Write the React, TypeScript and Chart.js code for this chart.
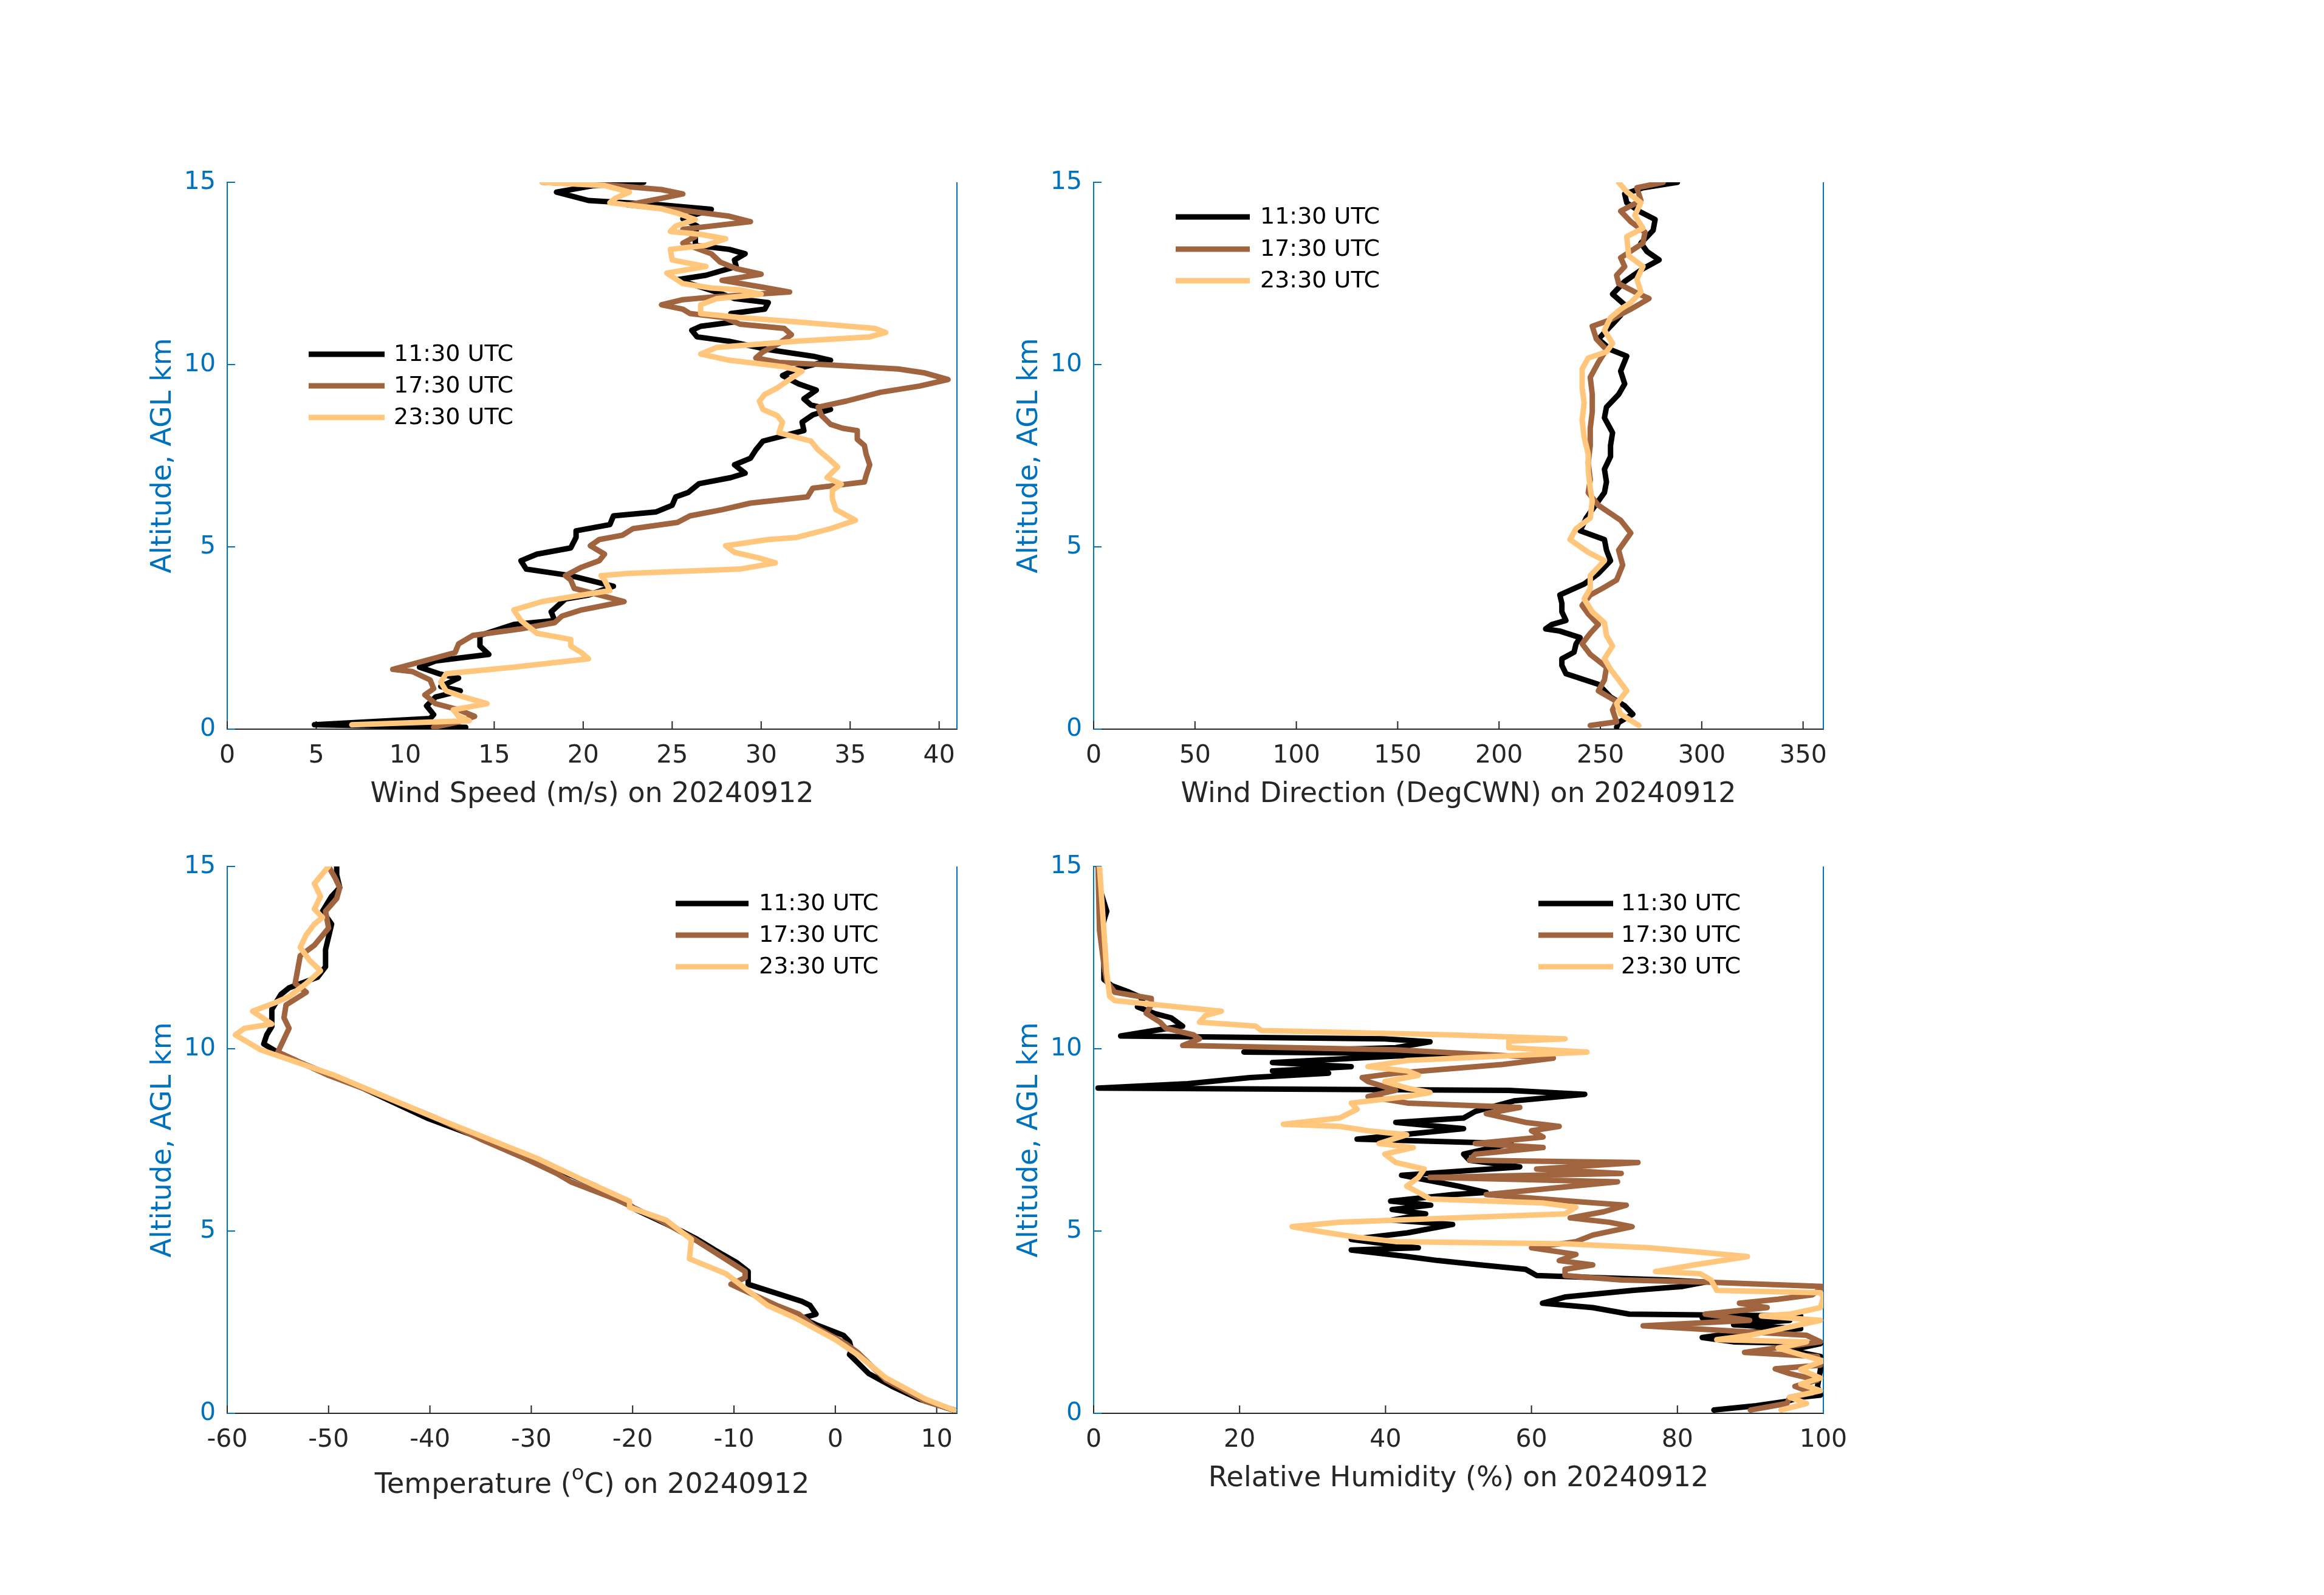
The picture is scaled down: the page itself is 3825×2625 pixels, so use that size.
import React, { useEffect, useRef } from "react";
import { Chart, registerables } from "chart.js";

Chart.register(...registerables);

type Pt = [number, number]; // [value, altitude km]

// ---------------- DATA ----------------
const SERIES_NAMES = ["11:30 UTC", "17:30 UTC", "23:30 UTC"];

const windSpeed1130: Pt[] = [[13.4,0.05],[4.9,0.12],[11.4,0.29],[11.6,0.4],[11.2,0.64],[11.7,0.88],[13.1,1.05],[12.0,1.17],[13.0,1.4],[11.9,1.52],[10.8,1.7],[11.7,1.87],[14.7,2.05],[14.2,2.28],[14.2,2.57],[16.1,2.87],[18.4,2.98],[18.2,3.22],[19.0,3.57],[20.3,3.68],[21.7,3.92],[19.3,4.21],[16.8,4.39],[16.5,4.62],[17.4,4.8],[19.3,4.97],[19.6,5.26],[19.6,5.44],[21.5,5.61],[21.7,5.85],[24.1,5.96],[25.0,6.14],[25.2,6.37],[25.9,6.49],[26.5,6.73],[28.3,6.9],[29.1,7.02],[28.5,7.25],[29.4,7.43],[29.7,7.66],[30.1,7.9],[32.4,8.19],[32.3,8.42],[32.9,8.62],[33.9,8.77],[32.8,8.89],[32.4,9.06],[33.1,9.3],[32.1,9.47],[31.2,9.7],[32.0,9.88],[33.9,10.12],[32.9,10.23],[30.4,10.41],[28.2,10.64],[26.4,10.76],[26.1,10.94],[26.6,11.05],[28.5,11.17],[28.3,11.4],[30.2,11.52],[30.4,11.7],[28.5,11.81],[27.5,11.99],[25.3,12.33],[26.9,12.45],[28.6,12.69],[28.5,12.87],[29.1,13.04],[28.2,13.16],[26.3,13.27],[26.3,13.57],[26.4,13.8],[25.6,14.0],[27.2,14.26],[24.4,14.38],[20.3,14.5],[18.5,14.73],[20.6,14.91],[23.4,15.0]];
const windSpeed1730: Pt[] = [[11.6,0.05],[13.0,0.2],[13.9,0.35],[13.0,0.53],[11.7,0.7],[11.1,0.94],[11.6,1.11],[11.4,1.35],[10.4,1.58],[9.3,1.64],[10.9,1.85],[12.8,2.1],[13.0,2.34],[13.8,2.57],[16.5,2.75],[18.4,2.92],[18.8,3.1],[19.9,3.27],[22.3,3.5],[20.9,3.68],[19.5,3.86],[19.3,4.09],[19.0,4.21],[19.9,4.44],[20.9,4.62],[21.2,4.8],[20.4,5.03],[20.9,5.2],[22.2,5.32],[22.8,5.5],[25.3,5.67],[26.0,5.85],[27.8,6.02],[29.4,6.2],[32.6,6.37],[32.9,6.61],[35.8,6.78],[35.9,6.96],[36.1,7.25],[35.9,7.54],[35.8,7.78],[35.4,7.95],[35.4,8.19],[34.6,8.25],[33.9,8.36],[33.4,8.6],[33.2,8.83],[34.8,9.0],[36.7,9.24],[38.9,9.41],[40.5,9.59],[39.2,9.77],[37.7,9.88],[33.5,10.0],[31.0,10.06],[29.7,10.18],[30.1,10.35],[31.0,10.58],[31.7,10.82],[31.3,10.99],[28.8,11.11],[27.9,11.29],[26.0,11.4],[25.6,11.52],[24.4,11.64],[25.6,11.78],[27.2,11.85],[31.6,11.99],[30.0,12.13],[27.8,12.31],[30.0,12.48],[28.6,12.63],[27.7,12.81],[27.2,13.04],[25.6,13.33],[26.3,13.51],[25.6,13.71],[29.4,13.92],[28.2,14.07],[25.6,14.23],[22.5,14.38],[24.4,14.56],[25.6,14.68],[24.4,14.8],[21.8,14.91],[17.7,15.0]];
const windSpeed2330: Pt[] = [[7.0,0.12],[13.6,0.23],[13.0,0.35],[12.7,0.53],[14.6,0.7],[13.3,0.88],[12.3,1.05],[12.0,1.29],[12.3,1.52],[16.1,1.7],[20.3,1.93],[19.9,2.1],[19.3,2.28],[19.3,2.46],[17.4,2.63],[16.5,2.98],[16.1,3.27],[17.7,3.5],[19.3,3.63],[21.5,3.8],[21.2,4.09],[21.0,4.21],[22.5,4.27],[28.8,4.39],[30.8,4.56],[30.0,4.68],[28.5,4.85],[28.0,5.03],[30.4,5.2],[32.0,5.26],[33.9,5.5],[35.3,5.73],[34.2,6.02],[34.0,6.32],[34.0,6.55],[34.5,6.72],[33.7,6.9],[34.3,7.19],[33.9,7.37],[33.2,7.66],[32.8,7.9],[31.0,8.13],[31.2,8.42],[30.9,8.6],[30.1,8.77],[29.9,9.0],[30.2,9.18],[30.9,9.36],[31.6,9.59],[32.3,9.82],[31.3,9.94],[28.2,10.12],[26.6,10.29],[27.5,10.47],[32.0,10.64],[36.1,10.76],[37.0,10.88],[36.4,10.99],[32.0,11.17],[28.8,11.29],[26.6,11.4],[26.6,11.64],[27.5,11.81],[30.0,11.93],[28.8,12.05],[27.2,12.1],[25.6,12.22],[24.7,12.51],[26.9,12.69],[25.0,12.87],[24.9,13.16],[26.9,13.27],[28.0,13.45],[26.6,13.57],[24.9,13.65],[25.2,13.8],[26.3,13.98],[25.3,14.15],[24.4,14.27],[21.5,14.44],[21.8,14.56],[22.6,14.73],[21.2,14.91],[17.7,15.0]];

const windDir1130: Pt[] = [[258,0.05],[259,0.18],[266,0.41],[262,0.64],[255,0.88],[249,1.23],[233,1.52],[231,1.75],[231,1.93],[237,2.11],[238,2.34],[240,2.51],[230,2.69],[223,2.75],[226,2.87],[233,2.98],[231,3.22],[231,3.45],[230,3.68],[242,3.98],[249,4.27],[255,4.62],[253,4.91],[252,5.2],[240,5.44],[243,5.79],[252,6.49],[253,6.78],[252,7.13],[255,7.48],[255,7.78],[256,8.13],[252,8.54],[253,8.83],[259,9.18],[262,9.47],[260,9.82],[263,10.23],[255,10.41],[249,10.7],[256,11.11],[260,11.35],[262,11.64],[256,11.93],[262,12.28],[271,12.63],[279,12.87],[273,13.1],[270,13.33],[276,13.68],[277,13.98],[269,14.21],[263,14.44],[262,14.68],[271,14.85],[288,15]];
const windDir1730: Pt[] = [[245,0.1],[258,0.2],[256,0.53],[258,0.76],[249,1.05],[252,1.35],[253,1.7],[245,2.05],[241,2.34],[245,2.63],[249,2.87],[244,3.16],[241,3.39],[245,3.68],[251,3.86],[258,4.09],[261,4.5],[259,4.91],[265,5.38],[260,5.73],[249,6.14],[244,6.49],[245,6.84],[244,7.31],[245,7.78],[245,8.25],[246,8.71],[246,9.18],[245,9.65],[249,10.06],[253,10.41],[248,10.7],[246,11.05],[255,11.23],[265,11.52],[274,11.81],[267,11.99],[259,12.22],[258,12.45],[262,12.69],[260,12.93],[271,13.33],[272,13.63],[265,13.92],[260,14.21],[270,14.5],[268,14.85],[281,15]];
const windDir2330: Pt[] = [[269,0.1],[260,0.41],[258,0.7],[263,1.05],[259,1.35],[255,1.64],[252,1.93],[256,2.28],[253,2.57],[252,2.92],[246,3.22],[242,3.57],[245,3.86],[245,4.21],[252,4.62],[244,4.85],[235,5.2],[238,5.5],[245,5.79],[246,6.26],[245,6.61],[244,7.07],[244,7.54],[242,8.01],[241,8.48],[242,8.95],[241,9.36],[241,9.88],[244,10.18],[253,10.35],[256,10.58],[252,10.94],[255,11.29],[260,11.52],[265,11.7],[270,11.99],[268,12.34],[271,12.69],[264,12.98],[263,13.51],[271,13.74],[267,14.09],[270,14.44],[263,14.74],[259,15]];

const temp1130: Pt[] = [[11.7,0.09],[8.3,0.39],[5.6,0.74],[3.3,1.09],[1.4,1.61],[1.6,1.75],[1.4,1.96],[0.8,2.14],[-1.9,2.43],[-3.3,2.61],[-1.9,2.72],[-2.5,2.96],[-3.3,3.07],[-8.6,3.54],[-8.6,3.89],[-9.7,4.13],[-11.9,4.48],[-13.6,4.77],[-15.2,5.0],[-19.7,5.59],[-20.8,5.82],[-23.6,6.23],[-27.5,6.7],[-30.8,7.11],[-34.7,7.52],[-40.3,8.1],[-46.6,8.92],[-54.4,9.8],[-56.4,10.13],[-56.1,10.38],[-55.6,10.61],[-55.6,11.08],[-54.7,11.49],[-53.9,11.67],[-51.1,11.96],[-50.3,12.25],[-50.3,12.72],[-49.7,13.42],[-50.6,13.77],[-49.7,14.18],[-48.9,14.42],[-49.2,14.77],[-49.2,15]];
const temp1730: Pt[] = [[11.7,0.09],[8.9,0.33],[5.0,0.91],[2.2,1.67],[1.1,1.9],[-2.0,2.37],[-3.6,2.72],[-5.8,2.96],[-10.3,3.54],[-8.9,3.72],[-8.9,3.89],[-10.6,4.19],[-13.9,4.77],[-17.3,5.3],[-21.7,5.88],[-26.1,6.35],[-27.5,6.58],[-30.6,6.99],[-35.0,7.52],[-39.4,8.1],[-46.1,8.86],[-50.0,9.27],[-55.0,9.91],[-54.7,10.09],[-53.9,10.56],[-54.4,10.85],[-54.2,11.2],[-52.2,11.55],[-53.3,11.79],[-52.8,12.55],[-51.4,12.84],[-50.0,13.31],[-50.3,13.77],[-49.2,14.12],[-48.9,14.42],[-49.4,14.71],[-50.0,15]];
const temp2330: Pt[] = [[11.7,0.09],[8.9,0.39],[5.0,0.97],[2.2,1.61],[0.0,2.02],[-3.9,2.61],[-6.7,2.96],[-8.9,3.43],[-10.8,3.83],[-14.4,4.24],[-14.2,4.77],[-16.7,5.3],[-20.3,5.65],[-20.3,5.82],[-25.0,6.41],[-29.4,6.99],[-39.4,8.1],[-49.4,9.27],[-56.7,9.97],[-59.2,10.38],[-58.3,10.56],[-55.6,10.68],[-57.5,11.03],[-55.3,11.26],[-53.9,11.43],[-52.2,11.79],[-50.8,12.14],[-51.9,12.43],[-52.8,12.78],[-52.2,13.13],[-51.4,13.42],[-50.6,13.6],[-51.4,13.83],[-50.8,14.18],[-51.4,14.53],[-50.0,15]];

const rh1130: Pt[] = [[85.0,0.09],[90.8,0.21],[95.0,0.33],[96.9,0.44],[99.6,0.5],[99.2,0.74],[99.6,1.2],[99.6,1.56],[95.4,1.73],[99.6,1.91],[87.7,1.96],[83.4,2.08],[87.7,2.2],[96.9,2.32],[87.7,2.43],[95.4,2.55],[83.4,2.62],[96.9,2.67],[73.4,2.72],[68.4,2.9],[61.5,3.02],[64.6,3.19],[73.8,3.37],[80.7,3.48],[83.8,3.6],[78.4,3.66],[60.7,3.78],[59.2,3.95],[53.0,4.07],[47.2,4.19],[43.0,4.3],[35.3,4.48],[44.5,4.54],[39.9,4.65],[35.3,4.77],[43.0,4.95],[49.2,5.18],[40.9,5.3],[45.5,5.47],[40.9,5.59],[46.2,5.71],[40.7,5.82],[49.2,6.0],[53.8,6.06],[50.0,6.23],[45.3,6.41],[42.2,6.53],[58.4,6.76],[51.5,6.94],[50.7,7.11],[57.2,7.4],[36.1,7.52],[50.7,7.81],[41.4,7.98],[50.7,8.1],[52.3,8.28],[57.6,8.57],[67.3,8.75],[56.9,8.86],[0.6,8.92],[12.9,9.04],[21.4,9.21],[32.2,9.33],[24.5,9.39],[35.3,9.51],[24.5,9.62],[41.4,9.8],[50.7,9.86],[20.6,9.91],[41.4,10.03],[46.1,10.19],[39.9,10.27],[3.7,10.35],[8.3,10.5],[12.2,10.62],[10.6,10.85],[8.3,10.97],[6.0,11.15],[6.8,11.38],[4.9,11.55],[2.5,11.73],[1.4,11.9],[1.4,12.43],[1.0,13.25],[1.8,13.77],[0.8,14.42],[0.6,15]];
const rh1730: Pt[] = [[90.0,0.09],[95.0,0.27],[95.4,0.44],[98.5,0.56],[96.1,0.74],[99.2,0.91],[95.4,1.09],[93.4,1.22],[99.6,1.32],[99.2,1.56],[89.2,1.67],[99.6,1.96],[97.7,2.14],[75.3,2.4],[89.9,2.55],[83.8,2.72],[92.3,2.9],[88.5,3.02],[93.8,3.13],[98.5,3.25],[100,3.48],[83.8,3.6],[72.3,3.66],[64.6,3.78],[64.6,3.95],[68.4,4.07],[63.8,4.19],[66.1,4.36],[60.0,4.54],[66.1,4.71],[68.4,4.89],[73.8,5.12],[70.7,5.24],[65.3,5.36],[69.9,5.53],[73.0,5.71],[65.3,5.82],[53.8,6.0],[71.8,6.35],[56.9,6.42],[46.1,6.47],[72.3,6.58],[60.7,6.7],[74.6,6.88],[51.5,6.94],[52.3,7.11],[61.6,7.29],[52.3,7.4],[61.6,7.58],[60.0,7.75],[63.8,7.87],[59.2,7.98],[53.8,8.22],[58.4,8.39],[43.0,8.51],[37.6,8.69],[41.4,8.86],[37.6,9.1],[36.8,9.21],[41.4,9.33],[56.1,9.57],[63.0,9.74],[41.4,9.97],[12.2,10.09],[14.5,10.27],[13.7,10.38],[9.9,10.56],[9.1,10.73],[7.2,10.97],[7.9,11.2],[7.9,11.38],[2.9,11.55],[1.8,11.84],[1.4,12.31],[0.8,13.25],[0.6,15]];
const rh2330: Pt[] = [[94.2,0.09],[97.7,0.27],[95.4,0.44],[99.6,0.62],[96.9,0.8],[99.6,0.97],[96.9,1.2],[100,1.44],[96.9,1.61],[93.8,1.79],[97.7,1.96],[85.4,2.02],[89.9,2.14],[95.4,2.37],[99.6,2.55],[91.5,2.67],[95.4,2.72],[99.6,2.9],[100,3.19],[99.6,3.31],[85.4,3.37],[84.6,3.66],[83.1,3.83],[77.0,3.89],[82.3,4.07],[89.6,4.3],[83.1,4.42],[76.1,4.54],[64.6,4.65],[41.4,4.71],[36.1,4.83],[30.6,5.0],[27.2,5.12],[33.7,5.24],[49.2,5.36],[64.6,5.47],[66.1,5.65],[61.5,5.77],[46.1,5.88],[44.5,6.06],[42.9,6.23],[44.5,6.47],[45.3,6.7],[41.4,6.88],[39.9,7.11],[43.8,7.29],[39.1,7.4],[42.9,7.64],[37.6,7.75],[33.7,7.87],[26.0,7.93],[33.7,8.1],[36.1,8.34],[35.3,8.51],[43.0,8.69],[46.1,8.8],[43.0,8.92],[39.9,9.1],[44.5,9.27],[43.0,9.39],[37.6,9.51],[43.0,9.68],[67.6,9.91],[56.9,10.03],[56.9,10.21],[64.6,10.27],[49.2,10.38],[23.0,10.5],[22.2,10.62],[14.5,10.73],[15.3,10.91],[17.5,11.03],[11.4,11.15],[2.9,11.32],[2.2,11.43],[1.8,12.08],[1.4,13.25],[1.0,14.42],[0.8,15]];

// ---------------- STYLE / LAYOUT ----------------
const FONT = '"DejaVu Sans", "Liberation Sans", sans-serif';
const BLUE = "#0072BD";
const AXIS = "#262626";
const SERIES_COLORS = ["#000000", "#A0643F", "#FFC67C"];
const PLOT_W = 1201;
const PLOT_H = 900;
const PAD_L = 10, Y_W = 137, PAD_T = 30, PAD_R = 60, X_H = 150, PAD_B = 10;

type Seg = { text: string; sup?: boolean };
interface PanelCfg {
  left: number; top: number;
  xMin: number; xMax: number; xStep: number;
  title: Seg[]; titleBase: number;
  legend: { x0: number; x1: number; tx: number; rows: number[] };
  series: Pt[][];
}

const PANELS: PanelCfg[] = [
  { left: 374, top: 300, xMin: 0, xMax: 41, xStep: 5,
    title: [{ text: "Wind Speed (m/s) on 20240912" }], titleBase: 120,
    legend: { x0: 134, x1: 259, tx: 274, rows: [283, 335, 387] },
    series: [windSpeed1130, windSpeed1730, windSpeed2330] },
  { left: 1800, top: 300, xMin: 0, xMax: 360, xStep: 50,
    title: [{ text: "Wind Direction (DegCWN) on 20240912" }], titleBase: 120,
    legend: { x0: 135, x1: 257, tx: 274, rows: [57, 110, 162] },
    series: [windDir1130, windDir1730, windDir2330] },
  { left: 374, top: 1426, xMin: -60, xMax: 12, xStep: 10,
    title: [{ text: "Temperature (" }, { text: "o", sup: true }, { text: "C) on 20240912" }], titleBase: 131,
    legend: { x0: 738, x1: 858, tx: 875, rows: [61, 113, 165] },
    series: [temp1130, temp1730, temp2330] },
  { left: 1800, top: 1426, xMin: 0, xMax: 100, xStep: 20,
    title: [{ text: "Relative Humidity (%) on 20240912" }], titleBase: 120,
    legend: { x0: 732, x1: 855, tx: 868, rows: [61, 113, 165] },
    series: [rh1130, rh1730, rh2330] },
];

function makeDecor(cfg: PanelCfg) {
  return {
    id: "decor",
    beforeDatasetsDraw(chart: any) {
      const { ctx, chartArea: a, scales } = chart;
      const x = scales.x, y = scales.y;
      ctx.save();
      ctx.lineWidth = 2;
      ctx.strokeStyle = AXIS;
      ctx.beginPath();
      for (const t of x.ticks) {
        const px = x.getPixelForValue(t.value);
        ctx.moveTo(px, a.bottom);
        ctx.lineTo(px, a.bottom - 13);
      }
      ctx.stroke();
      ctx.strokeStyle = BLUE;
      ctx.beginPath();
      for (const t of y.ticks) {
        const py = y.getPixelForValue(t.value);
        ctx.moveTo(a.left, py);
        ctx.lineTo(a.left + 13, py);
      }
      ctx.moveTo(a.right, a.top);
      ctx.lineTo(a.right, a.bottom);
      ctx.stroke();
      ctx.restore();
    },
    afterDraw(chart: any) {
      const { ctx, chartArea: a } = chart;
      ctx.save();
      // x title
      const big = `46px ${FONT}`;
      const small = `34px ${FONT}`;
      let total = 0;
      const widths = cfg.title.map((s) => {
        ctx.font = s.sup ? small : big;
        const w = ctx.measureText(s.text).width;
        total += w;
        return w;
      });
      let cx = (a.left + a.right) / 2 - total / 2;
      const base = a.bottom + cfg.titleBase;
      ctx.fillStyle = AXIS;
      ctx.textBaseline = "alphabetic";
      ctx.textAlign = "left";
      cfg.title.forEach((s, i) => {
        ctx.font = s.sup ? small : big;
        ctx.fillText(s.text, cx, s.sup ? base - 22 : base);
        cx += widths[i];
      });
      // y title
      ctx.save();
      ctx.translate(a.left - 93, (a.top + a.bottom) / 2);
      ctx.rotate(-Math.PI / 2);
      ctx.font = big;
      ctx.fillStyle = BLUE;
      ctx.textAlign = "center";
      ctx.fillText("Altitude, AGL km", 0, 0);
      ctx.restore();
      // legend
      const L = cfg.legend;
      SERIES_NAMES.forEach((name, i) => {
        const yy = a.top + L.rows[i];
        ctx.strokeStyle = SERIES_COLORS[i];
        ctx.lineWidth = 9;
        ctx.lineCap = "butt";
        ctx.beginPath();
        ctx.moveTo(a.left + L.x0, yy);
        ctx.lineTo(a.left + L.x1, yy);
        ctx.stroke();
        ctx.font = `38px ${FONT}`;
        ctx.fillStyle = "#000000";
        ctx.textAlign = "left";
        ctx.textBaseline = "middle";
        ctx.fillText(name, a.left + L.tx, yy + 1);
      });
      ctx.restore();
    },
  };
}

function Panel({ cfg }: { cfg: PanelCfg }) {
  const ref = useRef<HTMLCanvasElement>(null);
  const W = PAD_L + Y_W + PLOT_W + PAD_R;
  const H = PAD_T + PLOT_H + X_H + PAD_B;
  useEffect(() => {
    if (!ref.current) return;
    const chart = new Chart(ref.current, {
      type: "scatter",
      data: {
        datasets: cfg.series.map((s, i) => ({
          label: SERIES_NAMES[i],
          data: s.map(([v, alt]) => ({ x: v, y: alt })),
          showLine: true,
          borderColor: SERIES_COLORS[i],
          backgroundColor: SERIES_COLORS[i],
          borderWidth: 9,
          pointRadius: 0,
          pointHoverRadius: 0,
          borderJoinStyle: "round",
          borderCapStyle: "round",
          tension: 0,
          order: 2 - i,
        })),
      } as any,
      options: {
        responsive: false,
        maintainAspectRatio: false,
        animation: false,
        events: [],
        layout: { padding: { left: PAD_L, top: PAD_T, right: PAD_R, bottom: PAD_B } },
        plugins: { legend: { display: false }, tooltip: { enabled: false } },
        scales: {
          x: {
            type: "linear", position: "bottom", min: cfg.xMin, max: cfg.xMax,
            grid: { display: false, drawTicks: false },
            border: { display: true, color: AXIS, width: 2 },
            ticks: {
              stepSize: cfg.xStep, includeBounds: false, autoSkip: false, maxRotation: 0,
              color: AXIS, padding: 20, font: { family: FONT, size: 41 },
              callback: (v: any) => String(v),
            },
            afterFit: (s: any) => { s.height = X_H; s.paddingLeft = 0; s.paddingRight = 0; s.paddingTop = 0; s.paddingBottom = 0; },
          },
          y: {
            type: "linear", position: "left", min: 0, max: 15,
            grid: { display: false, drawTicks: false },
            border: { display: true, color: BLUE, width: 2 },
            ticks: {
              stepSize: 5, color: BLUE, padding: 19, font: { family: FONT, size: 41 },
              callback: (v: any) => String(v),
            },
            afterFit: (s: any) => { s.width = Y_W; s.paddingTop = 0; s.paddingBottom = 0; s.paddingLeft = 0; s.paddingRight = 0; },
          },
        },
      } as any,
      plugins: [makeDecor(cfg)],
    });
    return () => chart.destroy();
  }, []);
  return (
    <canvas
      ref={ref}
      width={W}
      height={H}
      style={{ position: "absolute", left: cfg.left - PAD_L - Y_W, top: cfg.top - PAD_T, width: W, height: H }}
    />
  );
}

export default function App() {
  return (
    <div style={{ position: "absolute", left: 0, top: 0, width: 3825, height: 2625, background: "#ffffff", overflow: "hidden" }}>
      {PANELS.map((p, i) => (
        <Panel key={i} cfg={p} />
      ))}
    </div>
  );
}
